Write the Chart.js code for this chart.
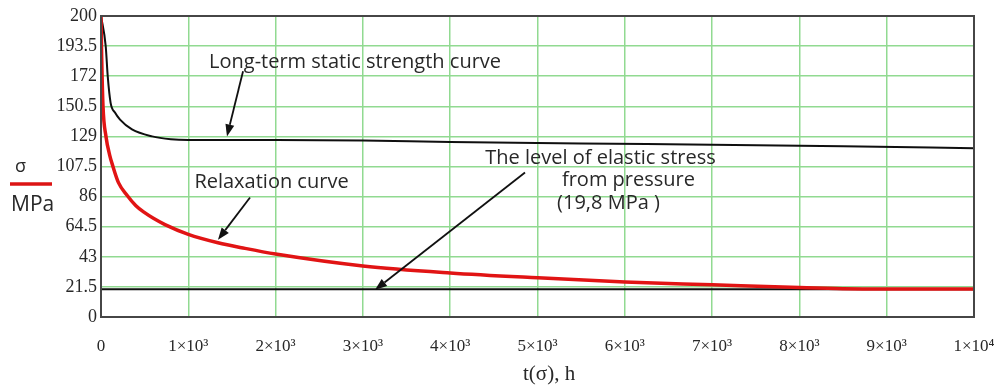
<!DOCTYPE html>
<html>
<head>
<meta charset="utf-8">
<script src="https://cdn.jsdelivr.net/npm/chart.js@4.4.0/dist/chart.umd.min.js"></script>
<style>
  html, body { margin: 0; padding: 0; background: #fff; }
  #wrap { width: 1003px; height: 385px; position: relative; }
</style>
</head>
<body>
<div id="wrap"><canvas id="graphique"></canvas></div>
<script>
// Axes
const xTicks = [0, 1000, 2000, 3000, 4000, 5000, 6000, 7000, 8000, 9000, 10000];
const xTickLabels = ['0', '1×10³', '2×10³', '3×10³', '4×10³', '5×10³', '6×10³', '7×10³', '8×10³', '9×10³', '1×10⁴'];
const yTicks = [0, 21.5, 43, 64.5, 86, 107.5, 129, 150.5, 172, 193.5, 215];
const yTickLabels = ['0', '21.5', '43', '64.5', '86', '107.5', '129', '150.5', '172', '193.5', '200'];

// Courbe de résistance statique à long terme (t en h, sigma en MPa)
const strengthT = [0, 54, 77, 110, 160, 218, 355, 585, 800, 1000, 2000, 3000, 4000, 5500, 7000, 8500, 10000];
const strengthS = [215, 193.5, 172, 153, 146, 141, 134, 129, 127, 126.5, 126.5, 126, 125, 124, 123, 122, 120.5];

// Courbe de relaxation
const relaxT = [0, 8, 23, 57, 100, 137, 200, 298, 400, 500, 600, 733, 1000, 1340, 1650, 2000, 3000, 4000, 5000, 6000, 7000, 8000, 8500, 9000, 10000];
const relaxS = [215, 185, 150.5, 129, 115.5, 107.5, 96, 87, 79.5, 74.5, 70.5, 66, 59, 53, 49, 45, 36.5, 31.5, 28, 25, 23, 21, 20.2, 20, 20];

// Niveau de contrainte élastique due à la pression
const levelT = [0, 10000];
const levelS = [19.8, 19.8];

// Annotations (coordonnées en unités des axes)
const notes = [
  { text: 'Long-term static strength curve', t: 2910, s: 182 },
  { text: 'Relaxation curve', t: 1953, s: 96 },
  { text: 'The level of elastic stress', t: 5722, s: 113.5 },
  { text: 'from pressure', t: 6042, s: 97.5 },
  { text: '(19,8 MPa )', t: 5813, s: 81.5 }
];
const arrows = [
  { t1: 1627, s1: 175.6, t2: 1443, s2: 129 },
  { t1: 1707, s1: 85.3, t2: 1340, s2: 55.2 },
  { t1: 4857, s1: 103.2, t2: 3139, s2: 19.4 }
];

const grid = 'rgb(145, 218, 145)';
const cadre = 'rgb(70, 70, 70)';
const texte = 'rgb(40, 40, 40)';

function pts(ts, ss) {
  return ts.map((t, i) => ({ x: t, y: ss[i] }));
}

const decor = {
  id: 'decor',
  afterDatasetsDraw(chart) {
    const ctx = chart.ctx;
    const a = chart.chartArea;
    const xs = chart.scales.x;
    const ys = chart.scales.y;

    // cadre
    ctx.save();
    ctx.strokeStyle = cadre;
    ctx.lineWidth = 2;
    ctx.strokeRect(a.left, a.top, a.right - a.left, a.bottom - a.top);

    // textes
    ctx.fillStyle = texte;
    ctx.font = '20px "Open Sans"';
    ctx.textAlign = 'center';
    ctx.textBaseline = 'middle';
    notes.forEach(n => {
      ctx.fillText(n.text, xs.getPixelForValue(n.t), ys.getPixelForValue(n.s));
    });

    // flèches
    ctx.strokeStyle = '#111';
    ctx.fillStyle = '#111';
    ctx.lineWidth = 1.8;
    arrows.forEach(f => {
      const x1 = xs.getPixelForValue(f.t1), y1 = ys.getPixelForValue(f.s1);
      const x2 = xs.getPixelForValue(f.t2), y2 = ys.getPixelForValue(f.s2);
      const ang = Math.atan2(y2 - y1, x2 - x1);
      const L = 12, W = 4.5;
      const bx = x2 - L * Math.cos(ang), by = y2 - L * Math.sin(ang);
      ctx.beginPath();
      ctx.moveTo(x1, y1);
      ctx.lineTo(bx, by);
      ctx.stroke();
      ctx.beginPath();
      ctx.moveTo(x2, y2);
      ctx.lineTo(bx + W * Math.sin(ang), by - W * Math.cos(ang));
      ctx.lineTo(bx - W * Math.sin(ang), by + W * Math.cos(ang));
      ctx.closePath();
      ctx.fill();
    });

    // titre axe y : sigma, trait rouge, MPa
    ctx.fillStyle = texte;
    ctx.textAlign = 'left';
    ctx.font = '18px "Open Sans"';
    ctx.fillText('σ', 15, 167);
    ctx.strokeStyle = 'rgb(220, 20, 20)';
    ctx.lineWidth = 3.5;
    ctx.beginPath();
    ctx.moveTo(10, 184);
    ctx.lineTo(52, 184);
    ctx.stroke();
    ctx.font = '21px "Open Sans"';
    ctx.fillText('MPa', 11, 205);

    // titre axe x
    ctx.font = '21px "Liberation Serif"';
    ctx.fillText('t(σ), h', 523, 374);
    ctx.restore();
  }
};

new Chart(document.getElementById('graphique'), {
  type: 'line',
  data: {
    datasets: [
      {
        label: 'Relaxation curve',
        data: pts(relaxT, relaxS),
        borderColor: 'rgb(225, 20, 20)',
        borderWidth: 3.5,
        cubicInterpolationMode: 'monotone',
        pointRadius: 0,
        order: 1
      },
      {
        label: 'Long-term static strength curve',
        data: pts(strengthT, strengthS),
        borderColor: 'rgb(15, 15, 15)',
        borderWidth: 2,
        cubicInterpolationMode: 'monotone',
        pointRadius: 0,
        order: 2
      },
      {
        label: 'Elastic stress level',
        data: pts(levelT, levelS),
        borderColor: 'rgb(15, 15, 15)',
        borderWidth: 2,
        pointRadius: 0,
        order: 3
      }
    ]
  },
  options: {
    responsive: true,
    maintainAspectRatio: false,
    animation: false,
    layout: { padding: { top: 16, right: 29, left: 0, bottom: 0 } },
    plugins: {
      legend: { display: false },
      tooltip: { enabled: false }
    },
    scales: {
      x: {
        type: 'linear',
        min: 0,
        max: 10000,
        afterBuildTicks: s => { s.ticks = xTicks.map(v => ({ value: v })); },
        afterFit: s => { s.height = 68; s.paddingLeft = 0; s.paddingRight = 0; },
        grid: { color: grid, lineWidth: 1.5, drawTicks: false },
        border: { display: false },
        ticks: {
          padding: 19,
          color: texte,
          maxRotation: 0,
          autoSkip: false,
          font: { family: 'Liberation Serif', size: 17 },
          callback: (v, i) => xTickLabels[i]
        }
      },
      y: {
        min: 0,
        max: 215,
        afterBuildTicks: s => { s.ticks = yTicks.map(v => ({ value: v })); },
        afterFit: s => { s.width = 101; s.paddingTop = 0; s.paddingBottom = 0; },
        grid: { color: grid, lineWidth: 1.5, drawTicks: false },
        border: { display: false },
        ticks: {
          padding: 4,
          color: texte,
          autoSkip: false,
          font: { family: 'Liberation Serif', size: 18 },
          callback: (v, i) => yTickLabels[i]
        }
      }
    }
  },
  plugins: [decor]
});
</script>
</body>
</html>
